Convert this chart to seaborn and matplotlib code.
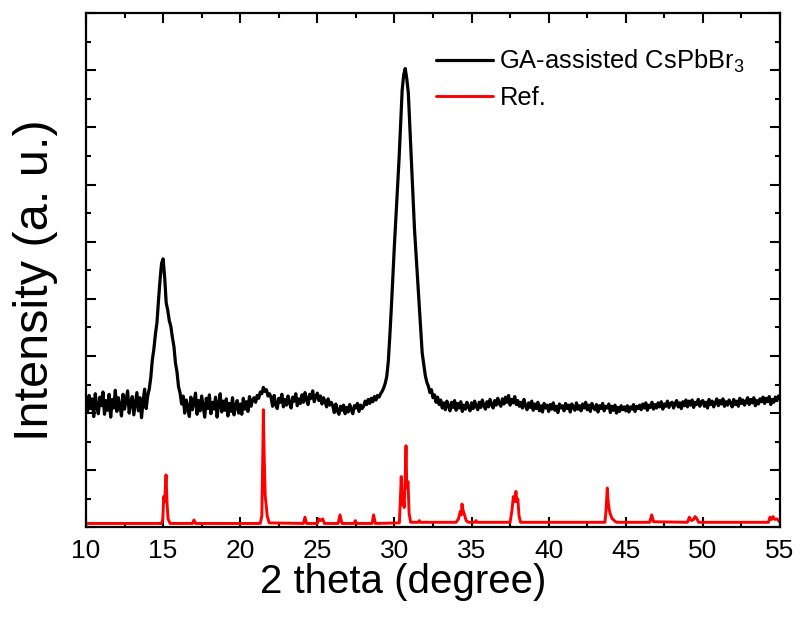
import numpy as np
import pandas as pd
import matplotlib
matplotlib.use('Agg')
import matplotlib.pyplot as plt
from matplotlib.ticker import MultipleLocator
import seaborn as sns

# black trace: 2 theta from 10.0 to 55.0 in 0.1 steps, one row per degree
two_theta_start, two_theta_step = 10.0, 0.1
ga_intensity = [
    2.20, 2.02, 2.31, 2.08, 2.25, 1.94, 2.34, 2.11, 1.99, 2.28,  # 10
    2.13, 2.37, 1.98, 2.22, 2.05, 2.33, 1.93, 2.24, 2.09, 2.40,  # 11
    2.03, 2.27, 2.14, 1.95, 2.33, 2.07, 2.23, 2.39, 2.00, 2.19,  # 12
    2.29, 1.97, 2.16, 2.36, 2.04, 2.27, 1.92, 2.20, 2.42, 2.08,  # 13
    2.30, 2.42, 2.62, 2.93, 3.12, 3.38, 3.58, 3.97, 4.33, 4.62,  # 14
    4.70, 4.38, 3.93, 3.80, 3.62, 3.52, 3.33, 3.17, 2.88, 2.72,  # 15
    2.46, 2.35, 2.16, 2.30, 2.00, 2.23, 2.11, 1.94, 2.28, 2.06,  # 16
    2.18, 2.35, 1.98, 2.22, 2.04, 2.30, 2.12, 1.93, 2.26, 2.08,  # 17
    2.32, 1.99, 2.19, 2.07, 2.28, 1.93, 2.15, 2.34, 2.02, 2.21,  # 18
    2.05, 2.25, 1.95, 2.17, 2.03, 2.27, 1.97, 2.13, 2.22, 2.00,  # 19
    2.16, 1.98, 2.26, 2.07, 2.20, 2.03, 2.29, 2.12, 2.23, 2.27,  # 20
    2.19, 2.31, 2.26, 2.37, 2.34, 2.45, 2.38, 2.41, 2.30, 2.34,  # 21
    2.27, 2.12, 2.31, 2.15, 2.08, 2.26, 2.19, 2.33, 2.11, 2.24,  # 22
    2.14, 2.30, 2.18, 2.09, 2.28, 2.21, 2.34, 2.13, 2.25, 2.17,  # 23
    2.32, 2.19, 2.36, 2.24, 2.15, 2.33, 2.26, 2.39, 2.20, 2.29,  # 24
    2.35, 2.22, 2.30, 2.16, 2.27, 2.20, 2.11, 2.25, 2.14, 2.19,  # 25
    2.13, 2.01, 2.16, 2.04, 1.98, 2.12, 2.05, 2.14, 1.99, 2.10,  # 26
    2.02, 2.15, 2.06, 1.99, 2.13, 2.09, 2.17, 2.03, 2.14, 2.08,  # 27
    2.12, 2.21, 2.15, 2.24, 2.17, 2.26, 2.20, 2.29, 2.23, 2.31,  # 28
    2.28, 2.34, 2.38, 2.44, 2.52, 2.64, 2.90, 3.35, 3.85, 4.40,  # 29
    4.95, 5.45, 5.95, 6.45, 7.05, 7.65, 7.92, 8.03, 7.85, 7.60,  # 30
    7.00, 6.40, 5.80, 5.22, 4.78, 4.33, 3.90, 3.45, 3.05, 2.85,  # 31
    2.66, 2.54, 2.47, 2.36, 2.41, 2.27, 2.32, 2.19, 2.28, 2.15,  # 32
    2.23, 2.09, 2.18, 2.06, 2.21, 2.13, 2.04, 2.19, 2.10, 2.22,  # 33
    2.05, 2.17, 2.09, 2.20, 2.03, 2.14, 2.07, 2.19, 2.11, 2.04,  # 34
    2.18, 2.08, 2.21, 2.12, 2.06, 2.19, 2.10, 2.23, 2.13, 2.07,  # 35
    2.20, 2.11, 2.24, 2.15, 2.09, 2.22, 2.14, 2.26, 2.17, 2.12,  # 36
    2.25, 2.16, 2.28, 2.19, 2.31, 2.14, 2.24, 2.18, 2.29, 2.15,  # 37
    2.22, 2.12, 2.19, 2.09, 2.24, 2.13, 2.06, 2.18, 2.10, 2.21,  # 38
    2.05, 2.16, 2.08, 2.19, 2.04, 2.13, 2.02, 2.17, 2.09, 2.14,  # 39
    2.03, 2.15, 2.07, 2.18, 2.05, 2.12, 2.01, 2.16, 2.09, 2.13,  # 40
    2.04, 2.17, 2.08, 2.14, 2.02, 2.16, 2.10, 2.05, 2.18, 2.07,  # 41
    2.13, 2.04, 2.16, 2.09, 2.19, 2.06, 2.14, 2.03, 2.17, 2.10,  # 42
    2.06, 2.15, 2.02, 2.13, 2.08, 2.17, 2.04, 2.12, 2.09, 2.16,  # 43
    2.01, 2.12, 2.05, 2.14, 2.00, 2.10, 2.03, 2.13, 2.06, 2.11,  # 44
    2.04, 2.13, 2.02, 2.11, 2.07, 2.15, 2.03, 2.12, 2.08, 2.14,  # 45
    2.06, 2.16, 2.09, 2.18, 2.05, 2.14, 2.10, 2.19, 2.07, 2.15,  # 46
    2.09, 2.18, 2.11, 2.20, 2.07, 2.16, 2.12, 2.21, 2.10, 2.17,  # 47
    2.19, 2.09, 2.17, 2.22, 2.11, 2.18, 2.08, 2.20, 2.13, 2.23,  # 48
    2.11, 2.21, 2.14, 2.23, 2.10, 2.19, 2.15, 2.24, 2.12, 2.20,  # 49
    2.22, 2.12, 2.19, 2.09, 2.24, 2.15, 2.21, 2.11, 2.18, 2.25,  # 50
    2.13, 2.22, 2.16, 2.25, 2.12, 2.20, 2.14, 2.23, 2.18, 2.11,  # 51
    2.24, 2.15, 2.21, 2.12, 2.26, 2.17, 2.23, 2.14, 2.20, 2.27,  # 52
    2.15, 2.24, 2.18, 2.27, 2.13, 2.22, 2.16, 2.25, 2.20, 2.28,  # 53
    2.17, 2.26, 2.20, 2.29, 2.15, 2.24, 2.19, 2.28, 2.22, 2.30,  # 54
    2.25,                                                        # 55
]
ga_two_theta = np.round(two_theta_start + two_theta_step * np.arange(len(ga_intensity)), 2)

# reference pattern (red), read point by point
ref_two_theta = [
    10.0, 14.90, 14.98, 15.04, 15.10, 15.19, 15.26, 15.32, 15.45,
    16.90, 17.00, 17.10,
    21.30, 21.40, 21.46, 21.50, 21.55, 21.62, 21.67, 21.75, 21.88,
    24.10, 24.20, 24.30, 25.00, 25.10, 25.22, 25.35, 25.45,
    26.35, 26.47, 26.60, 27.38, 27.46, 27.55, 28.55, 28.65, 28.76,
    30.32, 30.40, 30.44, 30.50, 30.57, 30.63, 30.70, 30.75, 30.80, 30.88, 30.95, 31.05,
    31.55, 31.61, 31.68,
    34.00, 34.15, 34.27, 34.33, 34.38, 34.45, 34.52, 34.65, 34.80,
    35.22, 35.29, 35.36,
    37.50, 37.62, 37.71, 37.78, 37.88, 37.94, 38.00, 38.08, 38.18,
    43.65, 43.72, 43.80, 43.86, 43.92, 43.98, 44.10, 44.25, 44.40,
    46.55, 46.68, 46.80,
    49.00, 49.12, 49.25, 49.40, 49.49, 49.60, 49.72,
    54.25, 54.35, 54.45, 54.55, 54.65, 54.80, 55.00,
]
ref_intensity = [
    0.07, 0.07, 0.15, 0.54, 0.45, 0.92, 0.40, 0.15, 0.07,
    0.07, 0.13, 0.07,
    0.07, 0.20, 1.20, 2.06, 1.30, 0.55, 0.43, 0.20, 0.08,
    0.07, 0.18, 0.07, 0.07, 0.15, 0.12, 0.15, 0.07,
    0.07, 0.22, 0.07, 0.07, 0.12, 0.07, 0.07, 0.22, 0.07,
    0.08, 0.60, 0.89, 0.40, 0.52, 0.35, 0.90, 1.43, 0.70, 0.80, 0.25, 0.09,
    0.09, 0.12, 0.09,
    0.09, 0.15, 0.28, 0.22, 0.41, 0.30, 0.24, 0.12, 0.09,
    0.09, 0.12, 0.09,
    0.09, 0.30, 0.54, 0.45, 0.63, 0.45, 0.50, 0.20, 0.09,
    0.09, 0.30, 0.69, 0.45, 0.32, 0.25, 0.16, 0.12, 0.09,
    0.09, 0.22, 0.10,
    0.09, 0.18, 0.12, 0.14, 0.19, 0.16, 0.09,
    0.09, 0.18, 0.14, 0.19, 0.14, 0.15, 0.09,
]

labels = ['GA-assisted CsPbBr$_3$', 'Ref.']
colors = ['#000000', '#ff0000']

ga = pd.DataFrame({'two_theta': ga_two_theta, 'intensity': ga_intensity})
ref = pd.DataFrame({'two_theta': ref_two_theta, 'intensity': ref_intensity})

sns.set_style('ticks')
plt.rcParams['font.family'] = ['Liberation Sans', 'DejaVu Sans']
plt.rcParams['mathtext.fontset'] = 'custom'
plt.rcParams['mathtext.rm'] = 'Liberation Sans'
plt.rcParams['mathtext.default'] = 'regular'
plt.rcParams['text.color'] = 'black'
plt.rcParams['axes.labelcolor'] = 'black'
plt.rcParams['xtick.color'] = 'black'
plt.rcParams['ytick.color'] = 'black'
plt.rcParams['axes.edgecolor'] = 'black'

fig = plt.figure(figsize=(8, 6.22), dpi=100)
ax = fig.add_axes([0.1075, 0.152, 0.8675, 0.827])

sns.lineplot(data=ga, x='two_theta', y='intensity', color=colors[0], lw=2.3,
             estimator=None, sort=False, label=labels[0], ax=ax)
sns.lineplot(data=ref, x='two_theta', y='intensity', color=colors[1], lw=2.1,
             estimator=None, sort=False, label=labels[1], ax=ax)

ax.set_xlim(10, 55)
ax.set_ylim(0, 9)
ax.xaxis.set_major_locator(MultipleLocator(5))
ax.xaxis.set_minor_locator(MultipleLocator(2.5))
ax.yaxis.set_major_locator(MultipleLocator(1))
ax.yaxis.set_minor_locator(MultipleLocator(0.5))
ax.tick_params(which='both', direction='in', top=True, right=True, width=1.5, labelsize=19)
ax.tick_params(which='major', length=7)
ax.tick_params(which='minor', length=3.5)
ax.tick_params(axis='x', pad=8)
ax.set_yticklabels([])
for s in ax.spines.values():
    s.set_linewidth(1.6)

ax.set_xlabel('2 theta (degree)', fontsize=29)
ax.set_ylabel('Intensity (a. u.)', fontsize=35)
ax.xaxis.set_label_coords(0.457, -0.07)
ax.yaxis.set_label_coords(-0.041, 0.481)

ax.legend(loc='upper left', bbox_to_anchor=(0.49, 0.953), frameon=False, fontsize=18.4,
          handlelength=2.2, handletextpad=0.27, labelspacing=0.45, borderaxespad=0)

fig.savefig('out.png', dpi=100)
